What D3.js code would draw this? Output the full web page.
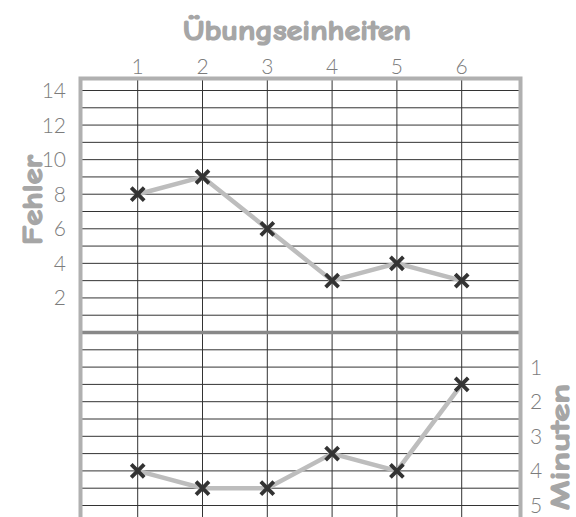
<!DOCTYPE html>
<html>
<head>
<meta charset="utf-8">
<script src="https://cdnjs.cloudflare.com/ajax/libs/d3/7.8.5/d3.min.js"></script>
<style>
  html, body { margin: 0; padding: 0; background: #fff; }
  svg { display: block; }
</style>
</head>
<body>
<div id="chart"></div>
<script>
// Werte aus dem Diagramm
const sessions = [1, 2, 3, 4, 5, 6];
const fehler = [8, 9, 6, 3, 4, 3];
const minuten = [4, 4.5, 4.5, 3.5, 4, 1.5];
const fehlerTicks = [2, 4, 6, 8, 10, 12, 14];
const minutenTicks = [1, 2, 3, 4, 5];
const fehlerGrid = d3.range(1, 15);
const minutenGrid = d3.range(0.5, 5.01, 0.5);

const width = 576;
const height = 517;

const frame = { left: 80.5, right: 520.5, top: 78.5, bottom: 520 };

const titleFont = '"Comic Sans MS", "Comic Neue", "DejaVu Sans", sans-serif';
const tickFont = '"Century Gothic", Lato, "Open Sans", sans-serif';

const x = d3.scaleLinear().domain([1, 6]).range([137.7, 461.7]);
const yTop = d3.scaleLinear().domain([0, 14]).range([332.5, 90.5]);
const yBot = d3.scaleLinear().domain([0, 5]).range([332.5, 505.5]);

const svg = d3.select('#chart')
    .append('svg')
    .attr('width', width)
    .attr('height', height);

const grid = svg.append('g')
    .attr('stroke', '#333')
    .attr('stroke-width', 1);

// horizontale Linien oben (Fehler)
grid.selectAll('line.h-top')
    .data(fehlerGrid)
    .enter()
    .append('line')
    .attr('x1', frame.left)
    .attr('x2', frame.right)
    .attr('y1', d => yTop(d))
    .attr('y2', d => yTop(d));

// horizontale Linien unten (Minuten)
grid.selectAll('line.h-bot')
    .data(minutenGrid)
    .enter()
    .append('line')
    .attr('x1', frame.left)
    .attr('x2', frame.right)
    .attr('y1', d => yBot(d))
    .attr('y2', d => yBot(d));

// senkrechte Linien
grid.selectAll('line.v')
    .data(sessions)
    .enter()
    .append('line')
    .attr('x1', d => x(d))
    .attr('x2', d => x(d))
    .attr('y1', frame.top)
    .attr('y2', frame.bottom);

// Trennlinie
svg.append('line')
    .attr('x1', frame.left)
    .attr('x2', frame.right)
    .attr('y1', yTop(0))
    .attr('y2', yTop(0))
    .attr('stroke', '#888')
    .attr('stroke-width', 3.5);

// Rahmen (unten offen)
svg.append('path')
    .attr('d', `M${frame.left},${frame.bottom}V${frame.top}H${frame.right}V${frame.bottom}`)
    .attr('fill', 'none')
    .attr('stroke', '#b0b0b0')
    .attr('stroke-width', 4);

// Datenlinien
const lineTop = d3.line()
    .x((d, i) => x(sessions[i]))
    .y(d => yTop(d));
const lineBot = d3.line()
    .x((d, i) => x(sessions[i]))
    .y(d => yBot(d));

svg.append('path')
    .attr('d', lineTop(fehler))
    .attr('fill', 'none')
    .attr('stroke', '#bdbdbd')
    .attr('stroke-width', 4.5);

svg.append('path')
    .attr('d', lineBot(minuten))
    .attr('fill', 'none')
    .attr('stroke', '#bdbdbd')
    .attr('stroke-width', 4.5);

// Kreuze
const cross = 'M-6.5,-6.5L6.5,6.5M-6.5,6.5L6.5,-6.5';

function drawMarkers(values, yScale) {
    svg.append('g')
        .selectAll('path')
        .data(values)
        .enter()
        .append('path')
        .attr('d', cross)
        .attr('transform', (d, i) => `translate(${x(sessions[i])},${yScale(d)})`)
        .attr('stroke', '#333')
        .attr('stroke-width', 3.8)
        .attr('fill', 'none');
}
drawMarkers(fehler, yTop);
drawMarkers(minuten, yBot);

// Beschriftungen
const labels = svg.append('g')
    .attr('font-family', tickFont)
    .attr('font-weight', 300)
    .attr('font-size', 21)
    .attr('fill', '#7c7c7c');

labels.selectAll('text.x')
    .data(sessions)
    .enter()
    .append('text')
    .attr('x', d => x(d))
    .attr('y', 74)
    .attr('text-anchor', 'middle')
    .text(d => d);

labels.selectAll('text.yl')
    .data(fehlerTicks)
    .enter()
    .append('text')
    .attr('x', 66)
    .attr('y', d => yTop(d))
    .attr('dy', '0.36em')
    .attr('text-anchor', 'end')
    .text(d => d);

labels.selectAll('text.yr')
    .data(minutenTicks)
    .enter()
    .append('text')
    .attr('x', 530)
    .attr('y', d => yBot(d))
    .attr('dy', '0.36em')
    .attr('text-anchor', 'start')
    .text(d => d);

// Achsentitel
const titles = svg.append('g')
    .attr('font-family', titleFont)
    .attr('font-weight', 'bold')
    .attr('font-size', 28)
    .attr('fill', '#a6a6a6')
    .attr('stroke', '#a6a6a6')
    .attr('stroke-width', 1.2)
    .attr('text-anchor', 'middle');

titles.append('text')
    .attr('x', 297)
    .attr('y', 40)
    .attr('textLength', 228)
    .attr('lengthAdjust', 'spacingAndGlyphs')
    .text('Übungseinheiten');

titles.append('text')
    .attr('transform', 'translate(42,200) rotate(-90)')
    .attr('textLength', 90)
    .attr('lengthAdjust', 'spacingAndGlyphs')
    .text('Fehler');

titles.append('text')
    .attr('transform', 'translate(569,447) rotate(-90)')
    .attr('font-size', 26)
    .attr('textLength', 126)
    .attr('lengthAdjust', 'spacingAndGlyphs')
    .text('Minuten');
</script>
</body>
</html>
